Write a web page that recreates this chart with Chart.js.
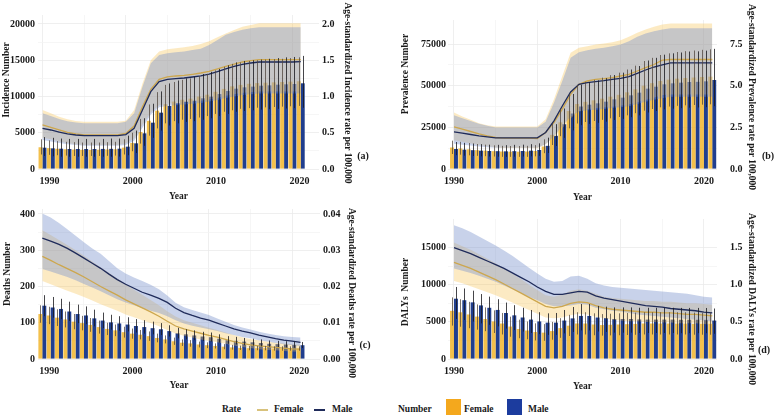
<!DOCTYPE html>
<html>
<head>
<meta charset="utf-8">
<script src="https://cdn.jsdelivr.net/npm/chart.js@4.4.1/dist/chart.umd.min.js"></script>
<style>
  body { margin: 0; background: #fff; }
  #wrap { position: relative; width: 774px; height: 416px; overflow: hidden;
    font-family: "Liberation Serif", "Times New Roman", serif; font-weight: bold; color: #1a1a1a; }
  canvas { position: absolute; }
  .ytitle { position: absolute; font-size: 9.5px; white-space: nowrap; transform: translate(-50%, -50%) rotate(-90deg); }
  .rtitle { position: absolute; font-size: 9.5px; white-space: nowrap; transform: translate(-50%, -50%) rotate(90deg); }
  .tag { position: absolute; font-size: 10px; transform: translate(-50%, -50%); }
  .lg { position: absolute; top: 403px; font-size: 9.5px; line-height: 12px; white-space: nowrap; }
  .sw { position: absolute; }
</style>
</head>
<body>
<div id="wrap">
  <canvas id="pa" width="362" height="205" style="left:0;top:0"></canvas>
  <canvas id="pb" width="364" height="205" style="left:398px;top:0"></canvas>
  <canvas id="pc" width="362" height="194" style="left:0;top:200px"></canvas>
  <canvas id="pd" width="364" height="194" style="left:398px;top:200px"></canvas>

  <div class="ytitle" style="left:6px;top:80px">Incidence Number</div>
  <div class="ytitle" style="left:405px;top:74px">Prevalence Number</div>
  <div class="ytitle" style="left:7px;top:274px">Deaths Number</div>
  <div class="ytitle" style="left:405px;top:292px">DALYs&nbsp; Number</div>

  <div class="rtitle" style="left:348px;top:93px">Age-standardized Incidence rate per 100,000</div>
  <div class="rtitle" style="left:752px;top:97px">Age-standardized Prevalence rate per 100,000</div>
  <div class="rtitle" style="left:352px;top:293px">Age-standardized Deaths rate per 100,000</div>
  <div class="rtitle" style="left:752px;top:299px">Age-standardized DALYs rate per 100,000</div>

  <div class="tag" style="left:363px;top:155px">(a)</div>
  <div class="tag" style="left:768px;top:155px">(b)</div>
  <div class="tag" style="left:365px;top:344px">(c)</div>
  <div class="tag" style="left:764px;top:349px">(d)</div>

  <div class="lg" style="left:222px">Rate</div>
  <div class="sw" style="left:257px;top:409px;width:11px;height:1.5px;background:#D8C27C"></div>
  <div class="lg" style="left:274px">Female</div>
  <div class="sw" style="left:314px;top:409px;width:11px;height:1.5px;background:#1F2B5A"></div>
  <div class="lg" style="left:332px">Male</div>
  <div class="lg" style="left:398px">Number</div>
  <div class="sw" style="left:446px;top:399px;width:15px;height:16px;background:#F4A81D"></div>
  <div class="lg" style="left:464px">Female</div>
  <div class="sw" style="left:507px;top:399px;width:15px;height:16px;background:#1C3C9E"></div>
  <div class="lg" style="left:528px">Male</div>
</div>
<script>
// years and axis ticks
var years = [1990, 1991, 1992, 1993, 1994, 1995, 1996, 1997, 1998, 1999, 2000, 2001, 2002, 2003, 2004, 2005,
  2006, 2007, 2008, 2009, 2010, 2011, 2012, 2013, 2014, 2015, 2016, 2017, 2018, 2019, 2020, 2021];
var yearTicks = [1990, 2000, 2010, 2020];
var incTicks = [0, 5000, 10000, 15000, 20000];
var incRateTicks = [0, 0.5, 1, 1.5, 2];
var prevTicks = [0, 25000, 50000, 75000];
var prevRateTicks = [0, 2.5, 5, 7.5];
var deathTicks = [0, 100, 200, 300, 400];
var deathRateTicks = [0, 0.01, 0.02, 0.03, 0.04];
var dalyTicks = [0, 5000, 10000, 15000];
var dalyRateTicks = [0, 0.5, 1, 1.5];

// (a) incidence
var incFemaleNum = [3000, 2880, 2790, 2720, 2680, 2650, 2640, 2660, 2690, 2720, 2950, 3600, 5100, 6650, 8050, 8950, 9300, 9550, 9700, 10000, 10250, 10650, 11050, 11400, 11600, 11750, 11850, 11900, 11950, 12000, 12050, 12100];
var incFemaleLo = [2000, 1950, 1900, 1850, 1800, 1800, 1800, 1800, 1820, 1850, 2000, 2450, 3500, 4600, 5600, 6300, 6600, 6800, 6900, 7100, 7300, 7600, 7900, 8100, 8300, 8400, 8450, 8500, 8550, 8600, 8650, 8700];
var incFemaleHi = [4100, 3950, 3850, 3750, 3700, 3650, 3650, 3650, 3700, 3750, 4100, 5000, 6900, 8900, 10600, 11600, 12000, 12300, 12500, 12800, 13100, 13600, 14100, 14500, 14700, 14900, 15000, 15100, 15150, 15200, 15300, 15400];
var incMaleNum = [2940, 2850, 2800, 2760, 2760, 2760, 2760, 2770, 2780, 2800, 3080, 3540, 4920, 6390, 7770, 8690, 9060, 9290, 9430, 9750, 9980, 10340, 10760, 11080, 11260, 11360, 11490, 11540, 11630, 11680, 11720, 11820];
var incMaleLo = [1800, 1750, 1700, 1700, 1700, 1700, 1700, 1700, 1700, 1720, 1900, 2200, 3200, 4300, 5300, 6000, 6300, 6500, 6600, 6800, 7000, 7300, 7600, 7900, 8000, 8100, 8200, 8250, 8300, 8350, 8400, 8450];
var incMaleHi = [4400, 4300, 4200, 4150, 4150, 4150, 4150, 4150, 4200, 4200, 4600, 5300, 7000, 9000, 10700, 11800, 12200, 12500, 12700, 13100, 13400, 13800, 14300, 14700, 14900, 15000, 15100, 15200, 15300, 15400, 15450, 15600];
var incFemaleRate = [0.61, 0.575, 0.54, 0.506, 0.483, 0.469, 0.469, 0.469, 0.469, 0.469, 0.49, 0.593, 0.86, 1.10, 1.237, 1.27, 1.283, 1.29, 1.306, 1.324, 1.347, 1.38, 1.416, 1.448, 1.476, 1.494, 1.508, 1.508, 1.508, 1.508, 1.508, 1.508];
var incFemaleRateLo = [0.43, 0.41, 0.38, 0.36, 0.34, 0.33, 0.33, 0.33, 0.33, 0.33, 0.35, 0.42, 0.61, 0.78, 0.88, 0.90, 0.91, 0.92, 0.93, 0.94, 0.96, 0.98, 1.01, 1.03, 1.05, 1.06, 1.07, 1.07, 1.07, 1.07, 1.07, 1.07];
var incFemaleRateHi = [0.814, 0.768, 0.72, 0.685, 0.662, 0.653, 0.653, 0.653, 0.653, 0.653, 0.667, 0.814, 1.18, 1.50, 1.62, 1.65, 1.664, 1.678, 1.697, 1.724, 1.761, 1.816, 1.87, 1.917, 1.963, 1.986, 2.009, 2.009, 2.009, 2.009, 2.009, 2.009];
var incMaleRate = [0.561, 0.538, 0.51, 0.483, 0.469, 0.46, 0.46, 0.46, 0.46, 0.46, 0.474, 0.561, 0.814, 1.067, 1.205, 1.237, 1.246, 1.255, 1.269, 1.283, 1.31, 1.343, 1.38, 1.416, 1.444, 1.462, 1.476, 1.476, 1.476, 1.476, 1.476, 1.48];
var incMaleRateLo = [0.40, 0.38, 0.36, 0.34, 0.33, 0.32, 0.32, 0.32, 0.32, 0.32, 0.33, 0.39, 0.57, 0.75, 0.85, 0.87, 0.88, 0.89, 0.90, 0.91, 0.93, 0.95, 0.98, 1.00, 1.02, 1.03, 1.04, 1.04, 1.04, 1.04, 1.04, 1.04];
var incMaleRateHi = [0.768, 0.73, 0.69, 0.66, 0.64, 0.63, 0.63, 0.63, 0.63, 0.63, 0.653, 0.768, 1.136, 1.457, 1.572, 1.595, 1.61, 1.62, 1.64, 1.66, 1.71, 1.78, 1.85, 1.89, 1.92, 1.94, 1.954, 1.954, 1.954, 1.954, 1.954, 1.954];

// (b) prevalence
var prevFemaleNum = [12900, 12300, 11800, 11300, 11000, 10700, 10500, 10400, 10400, 10500, 10800, 13500, 20500, 28000, 34800, 39000, 40300, 41200, 42200, 43400, 44500, 46000, 47800, 50000, 51500, 52800, 53600, 54200, 54600, 54900, 55200, 55400];
var prevFemaleLo = [9000, 8600, 8200, 7900, 7700, 7500, 7300, 7300, 7300, 7300, 7600, 9500, 14400, 19700, 24400, 27300, 28200, 28800, 29500, 30400, 31200, 32200, 33500, 35000, 36000, 37000, 37500, 37900, 38200, 38400, 38600, 38800];
var prevFemaleHi = [17000, 16300, 15600, 15000, 14600, 14200, 13900, 13800, 13800, 13900, 14300, 17800, 27000, 36500, 45000, 50500, 52300, 53500, 54800, 56300, 57800, 59700, 62000, 64800, 66700, 68400, 69400, 70200, 70700, 71100, 71500, 71800];
var prevMaleNum = [12000, 11600, 11300, 11000, 10800, 10700, 10600, 10700, 10800, 11000, 11400, 13900, 19900, 26900, 33300, 37500, 38600, 39400, 40400, 41800, 42800, 44200, 45800, 48200, 49400, 50800, 51400, 51800, 52200, 52300, 52600, 53400];
var prevMaleLo = [8300, 8000, 7800, 7600, 7500, 7400, 7300, 7400, 7500, 7600, 7900, 9600, 13800, 18700, 23200, 26300, 27100, 27700, 28400, 29400, 30100, 31100, 32200, 33900, 34800, 35800, 36200, 36500, 36800, 36900, 37100, 37700];
var prevMaleHi = [16200, 15700, 15300, 14900, 14600, 14500, 14300, 14500, 14600, 14900, 15400, 18800, 26900, 36300, 45000, 50600, 52100, 53200, 54500, 56400, 57800, 59700, 61800, 65100, 66700, 68600, 69400, 69900, 70500, 70600, 71000, 72100];
var prevFemaleRate = [2.53, 2.39, 2.25, 2.11, 1.99, 1.89, 1.85, 1.85, 1.85, 1.85, 1.83, 2.19, 2.79, 3.59, 4.48, 5.08, 5.28, 5.38, 5.42, 5.48, 5.58, 5.68, 5.88, 6.08, 6.27, 6.53, 6.57, 6.57, 6.57, 6.57, 6.57, 6.57];
var prevFemaleRateLo = [1.72, 1.63, 1.53, 1.44, 1.36, 1.29, 1.26, 1.26, 1.26, 1.26, 1.25, 1.49, 1.90, 2.44, 3.05, 3.46, 3.59, 3.66, 3.69, 3.73, 3.80, 3.87, 4.00, 4.14, 4.27, 4.44, 4.47, 4.47, 4.47, 4.47, 4.47, 4.47];
var prevFemaleRateHi = [3.39, 3.15, 2.95, 2.75, 2.63, 2.55, 2.55, 2.55, 2.55, 2.55, 2.55, 2.99, 4.18, 5.58, 6.97, 7.27, 7.37, 7.47, 7.53, 7.61, 7.73, 7.93, 8.17, 8.37, 8.53, 8.67, 8.73, 8.73, 8.73, 8.73, 8.73, 8.73];
var prevMaleRate = [2.23, 2.15, 2.07, 1.99, 1.93, 1.87, 1.87, 1.87, 1.87, 1.87, 1.87, 2.19, 2.89, 3.78, 4.62, 5.08, 5.18, 5.24, 5.30, 5.38, 5.44, 5.54, 5.74, 5.94, 6.12, 6.25, 6.37, 6.37, 6.37, 6.37, 6.37, 6.37];
var prevMaleRateLo = [1.52, 1.46, 1.41, 1.35, 1.31, 1.27, 1.27, 1.27, 1.27, 1.27, 1.27, 1.49, 1.97, 2.57, 3.14, 3.45, 3.52, 3.56, 3.60, 3.66, 3.70, 3.77, 3.90, 4.04, 4.16, 4.25, 4.33, 4.33, 4.33, 4.33, 4.33, 4.33];
var prevMaleRateHi = [3.23, 3.05, 2.88, 2.72, 2.60, 2.49, 2.49, 2.49, 2.49, 2.49, 2.49, 2.83, 3.98, 5.28, 6.67, 7.01, 7.13, 7.21, 7.27, 7.37, 7.47, 7.67, 7.93, 8.13, 8.27, 8.37, 8.45, 8.45, 8.45, 8.45, 8.45, 8.45];

// (c) deaths
var deathFemaleNum = [124, 120, 114, 109, 103, 99, 94, 88, 83, 79, 74, 70, 67, 63, 58, 54, 49, 45, 43, 40, 38, 36, 34, 32, 31, 30, 30, 30, 29, 29, 29, 29];
var deathFemaleLo = [100, 96, 91, 87, 82, 79, 75, 70, 66, 63, 59, 56, 54, 50, 46, 43, 39, 36, 34, 32, 30, 29, 27, 26, 25, 24, 24, 24, 23, 23, 23, 23];
var deathFemaleHi = [148, 144, 137, 131, 124, 119, 113, 106, 100, 95, 89, 84, 80, 76, 70, 65, 59, 54, 52, 48, 46, 43, 41, 39, 37, 36, 36, 36, 35, 35, 35, 35];
var deathMaleNum = [147, 142, 138, 131, 124, 120, 112, 106, 101, 98, 95, 91, 88, 85, 82, 77, 71, 68, 65, 62, 60, 56, 52, 50, 48, 46, 44, 42, 41, 40, 39, 38];
var deathMaleLo = [118, 114, 110, 105, 99, 96, 90, 85, 81, 78, 76, 73, 70, 68, 66, 62, 57, 54, 52, 50, 48, 45, 42, 40, 38, 37, 35, 34, 33, 32, 31, 30];
var deathMaleHi = [176, 171, 166, 158, 150, 145, 136, 128, 122, 118, 115, 110, 107, 103, 99, 93, 86, 82, 79, 75, 73, 68, 63, 61, 58, 56, 54, 51, 50, 49, 48, 47];
var deathFemaleRate = [0.0283, 0.0272, 0.0260, 0.0249, 0.0238, 0.0226, 0.0213, 0.0200, 0.0188, 0.0176, 0.0163, 0.0152, 0.0141, 0.0130, 0.0118, 0.0104, 0.0091, 0.0083, 0.0077, 0.0071, 0.0065, 0.0060, 0.0054, 0.0048, 0.0043, 0.0039, 0.0036, 0.0034, 0.0032, 0.0030, 0.0028, 0.0027];
var deathFemaleRateLo = [0.0215, 0.0206, 0.0197, 0.0188, 0.0180, 0.0171, 0.0161, 0.0151, 0.0142, 0.0133, 0.0123, 0.0115, 0.0107, 0.0099, 0.0090, 0.0080, 0.0070, 0.0064, 0.0059, 0.0054, 0.0050, 0.0046, 0.0042, 0.0037, 0.0033, 0.0030, 0.0027, 0.0025, 0.0024, 0.0022, 0.0021, 0.0020];
var deathFemaleRateHi = [0.0355, 0.0342, 0.0328, 0.0314, 0.0300, 0.0285, 0.0269, 0.0253, 0.0238, 0.0222, 0.0207, 0.0191, 0.0177, 0.0163, 0.0148, 0.0132, 0.0117, 0.0107, 0.0100, 0.0093, 0.0086, 0.0080, 0.0073, 0.0066, 0.0060, 0.0055, 0.0051, 0.0048, 0.0045, 0.0043, 0.0041, 0.0039];
var deathMaleRate = [0.0333, 0.0325, 0.0316, 0.0305, 0.0292, 0.0278, 0.0264, 0.0250, 0.0234, 0.0219, 0.0206, 0.0195, 0.0184, 0.0176, 0.0167, 0.0156, 0.0140, 0.0128, 0.0120, 0.0113, 0.0107, 0.0099, 0.0091, 0.0083, 0.0077, 0.0072, 0.0066, 0.0061, 0.0056, 0.0052, 0.0049, 0.0046];
var deathMaleRateLo = [0.0248, 0.0241, 0.0234, 0.0226, 0.0217, 0.0207, 0.0197, 0.0187, 0.0176, 0.0165, 0.0156, 0.0148, 0.0140, 0.0133, 0.0127, 0.0118, 0.0107, 0.0098, 0.0092, 0.0087, 0.0082, 0.0077, 0.0071, 0.0066, 0.0061, 0.0057, 0.0052, 0.0048, 0.0044, 0.0041, 0.0038, 0.0036];
var deathMaleRateHi = [0.0401, 0.0390, 0.0375, 0.0358, 0.0340, 0.0322, 0.0305, 0.0290, 0.0270, 0.0250, 0.0236, 0.0225, 0.0215, 0.0205, 0.0192, 0.0175, 0.0155, 0.0143, 0.0135, 0.0128, 0.0121, 0.0112, 0.0103, 0.0094, 0.0087, 0.0081, 0.0075, 0.0070, 0.0066, 0.0063, 0.0061, 0.0059];

// (d) DALYs
var dalyFemaleNum = [6490, 6290, 6000, 5710, 5390, 5060, 4780, 4370, 4040, 3840, 3630, 3550, 3760, 4160, 4490, 4780, 4780, 4650, 4570, 4610, 4650, 4690, 4730, 4780, 4780, 4780, 4780, 4780, 4780, 4740, 4740, 4740];
var dalyFemaleLo = [4500, 4350, 4150, 3950, 3750, 3500, 3300, 3000, 2800, 2650, 2500, 2450, 2600, 2850, 3100, 3300, 3300, 3200, 3150, 3180, 3200, 3230, 3260, 3300, 3300, 3300, 3300, 3300, 3300, 3270, 3270, 3270];
var dalyFemaleHi = [8300, 8050, 7700, 7350, 6950, 6550, 6200, 5700, 5300, 5050, 4800, 4700, 5000, 5500, 5950, 6300, 6300, 6150, 6050, 6100, 6150, 6200, 6250, 6300, 6300, 6300, 6300, 6300, 6300, 6250, 6250, 6250];
var dalyMaleNum = [8120, 7920, 7630, 7220, 6900, 6610, 6200, 5880, 5590, 5310, 5060, 4900, 4900, 5180, 5470, 5800, 5800, 5590, 5510, 5390, 5390, 5390, 5330, 5310, 5310, 5310, 5310, 5290, 5290, 5290, 5270, 5180];
var dalyMaleLo = [5400, 5250, 5050, 4800, 4600, 4400, 4100, 3900, 3700, 3500, 3350, 3250, 3250, 3450, 3650, 3850, 3850, 3700, 3650, 3550, 3550, 3550, 3500, 3500, 3500, 3500, 3500, 3480, 3480, 3480, 3470, 3400];
var dalyMaleHi = [9700, 9500, 9200, 8750, 8400, 8050, 7600, 7250, 6900, 6600, 6300, 6150, 6200, 6600, 7000, 7400, 7400, 7150, 7050, 6950, 6950, 6950, 6900, 6900, 6900, 6900, 6900, 6880, 6880, 6880, 6870, 6800];
var dalyFemaleRate = [1.30, 1.26, 1.22, 1.17, 1.12, 1.07, 1.01, 0.95, 0.89, 0.83, 0.77, 0.71, 0.69, 0.71, 0.75, 0.77, 0.76, 0.72, 0.69, 0.67, 0.66, 0.65, 0.64, 0.63, 0.63, 0.62, 0.62, 0.61, 0.60, 0.60, 0.59, 0.58];
var dalyFemaleRateLo = [1.05, 1.02, 0.98, 0.94, 0.90, 0.86, 0.81, 0.76, 0.71, 0.66, 0.61, 0.56, 0.55, 0.56, 0.59, 0.61, 0.60, 0.57, 0.55, 0.53, 0.52, 0.51, 0.51, 0.50, 0.50, 0.49, 0.49, 0.48, 0.48, 0.48, 0.47, 0.46];
var dalyFemaleRateHi = [1.57, 1.52, 1.47, 1.41, 1.35, 1.29, 1.22, 1.15, 1.08, 1.00, 0.93, 0.86, 0.84, 0.87, 0.92, 0.94, 0.92, 0.88, 0.84, 0.82, 0.81, 0.80, 0.79, 0.78, 0.78, 0.77, 0.77, 0.76, 0.75, 0.75, 0.74, 0.73];
var dalyMaleRate = [1.50, 1.46, 1.42, 1.37, 1.32, 1.27, 1.22, 1.16, 1.10, 1.04, 0.97, 0.91, 0.87, 0.87, 0.89, 0.91, 0.90, 0.85, 0.82, 0.80, 0.78, 0.76, 0.74, 0.72, 0.71, 0.70, 0.68, 0.67, 0.66, 0.65, 0.63, 0.62];
var dalyMaleRateLo = [1.22, 1.19, 1.16, 1.12, 1.08, 1.04, 0.99, 0.94, 0.89, 0.84, 0.79, 0.74, 0.71, 0.71, 0.72, 0.74, 0.73, 0.69, 0.67, 0.65, 0.64, 0.62, 0.60, 0.59, 0.58, 0.57, 0.56, 0.55, 0.54, 0.53, 0.52, 0.51];
var dalyMaleRateHi = [1.80, 1.76, 1.71, 1.65, 1.59, 1.53, 1.46, 1.39, 1.31, 1.23, 1.15, 1.08, 1.04, 1.05, 1.11, 1.12, 1.08, 1.02, 0.99, 0.97, 0.96, 0.95, 0.94, 0.93, 0.92, 0.91, 0.90, 0.89, 0.88, 0.86, 0.84, 0.83];

Chart.defaults.font.family = '"Liberation Serif", "Times New Roman", serif';
Chart.defaults.font.weight = 'bold';
Chart.defaults.color = '#1a1a1a';

// uncertainty bars on top of each bar
var errorBars = {
  id: 'errorBars',
  afterDatasetsDraw(chart) {
    var ctx = chart.ctx, ys = chart.scales.y;
    chart.data.datasets.forEach(function(ds, i) {
      if (!ds.errLo) return;
      var meta = chart.getDatasetMeta(i);
      ctx.save();
      ctx.strokeStyle = ds.errColor;
      ctx.lineWidth = 0.9;
      meta.data.forEach(function(bar, j) {
        var x = Math.round(bar.x) + 0.5;
        ctx.beginPath();
        ctx.moveTo(x, ys.getPixelForValue(ds.errLo[j]));
        ctx.lineTo(x, ys.getPixelForValue(ds.errHi[j]));
        ctx.stroke();
      });
      ctx.restore();
    });
  }
};

// major ticks plus a minor one half way between each pair
function withMinor(ticks) {
  var out = [];
  ticks.forEach(function(v, i) {
    out.push({ value: v });
    if (i < ticks.length - 1) out.push({ value: (v + ticks[i + 1]) / 2, minor: true });
  });
  return out;
}

function bandLine(data, fill, color, order) {
  return { type: 'line', data: data, yAxisID: 'y1', borderColor: 'transparent', borderWidth: 0,
    pointRadius: 0, fill: fill, backgroundColor: color, order: order };
}

function drawPanel(p) {
  var fillF = 'rgba(247,196,90,0.36)', fillM = 'rgba(125,148,205,0.42)';
  new Chart(document.getElementById(p.id), {
    type: 'bar',
    data: {
      labels: years,
      datasets: [
        { label: 'Female', data: p.fNum, backgroundColor: 'rgba(240,178,36,0.82)', errLo: p.fLo, errHi: p.fHi,
          errColor: 'rgba(80,70,60,0.85)', order: 5, categoryPercentage: 0.95, barPercentage: 1 },
        { label: 'Male', data: p.mNum, backgroundColor: '#203E8E', errLo: p.mLo, errHi: p.mHi,
          errColor: 'rgba(25,25,30,0.9)', order: 5, categoryPercentage: 0.95, barPercentage: 1 },
        bandLine(p.fRateHi, '+1', fillF, 4),
        bandLine(p.fRateLo, false, fillF, 4),
        bandLine(p.mRateHi, '+1', fillM, 3),
        bandLine(p.mRateLo, false, fillM, 3),
        { type: 'line', label: 'Female rate', data: p.fRate, yAxisID: 'y1', borderColor: '#CDA74E', borderWidth: 1.3,
          pointRadius: 0, fill: false, order: 2 },
        { type: 'line', label: 'Male rate', data: p.mRate, yAxisID: 'y1', borderColor: '#1F2B5A', borderWidth: 1.3,
          pointRadius: 0, fill: false, order: 1 }
      ]
    },
    options: {
      responsive: false,
      animation: false,
      events: [],
      layout: { padding: { top: p.top, left: 0, right: 0, bottom: 0 } },
      plugins: { legend: { display: false }, tooltip: { enabled: false } },
      scales: {
        x: {
          type: 'linear', min: p.xMin, max: p.xMax, offset: false,
          afterBuildTicks: function(s) { s.ticks = withMinor(yearTicks); },
          afterFit: function(s) { s.height = p.h - p.bottom; },
          ticks: { autoSkip: false, maxRotation: 0, padding: 6, labelOffset: p.labelOffset, font: { size: 10 },
            callback: function(v) { return yearTicks.indexOf(v) >= 0 ? String(v) : ''; } },
          grid: { drawTicks: false, offset: false, lineWidth: 0.8,
            color: function(c) { return c.tick && c.tick.minor ? '#F4F4F4' : '#EBEBEB'; } },
          border: { display: false },
          title: { display: true, text: 'Year', font: { size: 9.5 }, padding: { top: 0, bottom: p.xTitlePad } }
        },
        y: {
          position: 'left', min: 0, max: p.yMax,
          afterBuildTicks: function(s) { s.ticks = withMinor(p.yTicks); },
          afterFit: function(s) { s.width = p.left; },
          ticks: { padding: p.yLabelPad, font: { size: 10 },
            callback: function(v) { return p.yTicks.indexOf(v) >= 0 ? String(v) : ''; } },
          grid: { drawTicks: false, lineWidth: 0.8,
            color: function(c) { return c.tick && c.tick.minor ? '#F4F4F4' : '#EBEBEB'; } },
          border: { display: false }
        },
        y1: {
          position: 'right', min: 0, max: p.rMax,
          afterBuildTicks: function(s) { s.ticks = p.rTicks.map(function(v) { return { value: v }; }); },
          afterFit: function(s) { s.width = p.w - p.right; },
          ticks: { padding: p.rLabelPad, font: { size: 10 },
            callback: function(v) { return v.toFixed(p.rDigits); } },
          grid: { display: false, drawTicks: false },
          border: { display: false }
        }
      }
    },
    plugins: [errorBars]
  });
}

drawPanel({ id: 'pa', w: 362, h: 205, left: 38, right: 319, top: 15, bottom: 169,
  xMin: 1989.46, xMax: 2023.19, yMax: 21240, rMax: 2.124, labelOffset: 7, yLabelPad: 3, rLabelPad: 3,
  xTitlePad: 2.3, rDigits: 1, yTicks: incTicks, rTicks: incRateTicks,
  fNum: incFemaleNum, fLo: incFemaleLo, fHi: incFemaleHi, mNum: incMaleNum, mLo: incMaleLo, mHi: incMaleHi,
  fRate: incFemaleRate, fRateLo: incFemaleRateLo, fRateHi: incFemaleRateHi,
  mRate: incMaleRate, mRateLo: incMaleRateLo, mRateHi: incMaleRateHi });

drawPanel({ id: 'pb', w: 364, h: 205, left: 50, right: 319, top: 20, bottom: 169,
  xMin: 1989.28, xMax: 2021.57, yMax: 89400, rMax: 8.94, labelOffset: 0, yLabelPad: 2, rLabelPad: 13,
  xTitlePad: 2, rDigits: 1, yTicks: prevTicks, rTicks: prevRateTicks,
  fNum: prevFemaleNum, fLo: prevFemaleLo, fHi: prevFemaleHi, mNum: prevMaleNum, mLo: prevMaleLo, mHi: prevMaleHi,
  fRate: prevFemaleRate, fRateLo: prevFemaleRateLo, fRateHi: prevFemaleRateHi,
  mRate: prevMaleRate, mRateLo: prevMaleRateLo, mRateHi: prevMaleRateHi });

drawPanel({ id: 'pc', w: 362, h: 194, left: 38, right: 320, top: 7, bottom: 159,
  xMin: 1989.48, xMax: 2023.34, yMax: 413.6, rMax: 0.04136, labelOffset: 7, yLabelPad: 3, rLabelPad: 3,
  xTitlePad: 2.6, rDigits: 2, yTicks: deathTicks, rTicks: deathRateTicks,
  fNum: deathFemaleNum, fLo: deathFemaleLo, fHi: deathFemaleHi, mNum: deathMaleNum, mLo: deathMaleLo, mHi: deathMaleHi,
  fRate: deathFemaleRate, fRateLo: deathFemaleRateLo, fRateHi: deathFemaleRateHi,
  mRate: deathMaleRate, mRateLo: deathMaleRateLo, mRateHi: deathMaleRateHi });

drawPanel({ id: 'pd', w: 364, h: 194, left: 50, right: 319, top: 5, bottom: 159,
  xMin: 1989.28, xMax: 2021.57, yMax: 18857, rMax: 1.8857, labelOffset: 0, yLabelPad: 2, rLabelPad: 13,
  xTitlePad: 1.3, rDigits: 1, yTicks: dalyTicks, rTicks: dalyRateTicks,
  fNum: dalyFemaleNum, fLo: dalyFemaleLo, fHi: dalyFemaleHi, mNum: dalyMaleNum, mLo: dalyMaleLo, mHi: dalyMaleHi,
  fRate: dalyFemaleRate, fRateLo: dalyFemaleRateLo, fRateHi: dalyFemaleRateHi,
  mRate: dalyMaleRate, mRateLo: dalyMaleRateLo, mRateHi: dalyMaleRateHi });
</script>
</body>
</html>
